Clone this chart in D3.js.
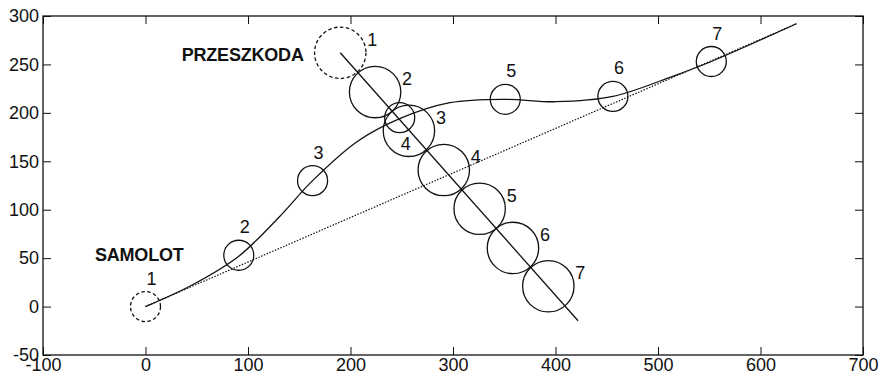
<!DOCTYPE html>
<html><head><meta charset="utf-8">
<script src="https://cdn.jsdelivr.net/npm/d3@7"></script>
<style>body{margin:0;background:#fff}</style>
</head><body>
<svg id="c" width="879" height="375"></svg>
<script>
// ---- data ----
const xTicks = [-100, 0, 100, 200, 300, 400, 500, 600, 700];
const yTicks = [-50, 0, 50, 100, 150, 200, 250, 300];
const planeX = [0, 91, 163, 248, 351, 456, 552];
const planeY = [0, 53, 130, 195, 214, 217, 253];
const planeLabels = ["1", "2", "3", "4", "5", "6", "7"];
const obstX = [190, 224, 257, 291, 326, 358.5, 393];
const obstY = [262, 221.5, 181.5, 141, 101, 60.5, 21];
const obstLabels = ["1", "2", "3", "4", "5", "6", "7"];
const pathX = [0, 45, 91, 130, 163, 206, 248, 297, 351, 400, 456, 515, 552, 635];
const pathY = [0, 22, 52, 92, 130, 170, 194, 210.5, 214, 211.5, 217, 238, 253, 292];
const directX = [0, 635];
const directY = [0, 292];
const obstLineX = [190, 422];
const obstLineY = [262, -14.6];
const nameTexts = ["SAMOLOT", "PRZESZKODA"];
const nameX = [-49.3, 35.3];
const nameY = [46.6, 253.7];

// ---- layout ----
const W = 879, H = 375;
const L = 43, R = 863, T = 16, B = 355;
const svg = d3.select("#c");
svg.append("rect").attr("width", W).attr("height", H).attr("fill", "#fff");
const x = d3.scaleLinear().domain([-100, 700]).range([L, R]);
const y = d3.scaleLinear().domain([-50, 300]).range([B, T]);
const FONT = "'Liberation Sans', Arial, Helvetica, sans-serif";
const INK = "#111";
const fmt = d => String(d);

function styleAxis(g, showText) {
  g.select(".domain").remove();
  g.selectAll(".tick line").attr("stroke", INK).attr("stroke-width", 1);
  g.selectAll(".tick text").attr("fill", INK).style("font-family", FONT).style("font-size", "18px");
  if (!showText) g.selectAll(".tick text").remove();
}
svg.append("g").attr("transform", `translate(0,${B})`)
  .call(d3.axisBottom(x).tickValues(xTicks).tickFormat(fmt).tickSizeInner(-8).tickSizeOuter(0).tickPadding(3))
  .call(g => styleAxis(g, true));
svg.append("g").attr("transform", `translate(0,${T})`)
  .call(d3.axisTop(x).tickValues(xTicks).tickSizeInner(-8).tickSizeOuter(0))
  .call(g => styleAxis(g, false));
svg.append("g").attr("transform", `translate(${L},0)`)
  .call(d3.axisLeft(y).tickValues(yTicks).tickFormat(fmt).tickSizeInner(-8).tickSizeOuter(0).tickPadding(4))
  .call(g => styleAxis(g, true));
svg.append("g").attr("transform", `translate(${R},0)`)
  .call(d3.axisRight(y).tickValues(yTicks).tickSizeInner(-8).tickSizeOuter(0))
  .call(g => styleAxis(g, false));
svg.append("rect").attr("x", L).attr("y", T).attr("width", R - L).attr("height", B - T)
  .attr("fill", "none").attr("stroke", INK).attr("stroke-width", 1.3);

const plot = svg.append("g");
const line = d3.line().x(d => x(d[0])).y(d => y(d[1]));

// straight dotted reference
plot.append("path").datum(d3.zip(directX, directY)).attr("d", line)
  .attr("fill", "none").attr("stroke", INK).attr("stroke-width", 1.2).attr("stroke-dasharray", "1.5,1.5");
// aircraft path
plot.append("path").datum(d3.zip(pathX, pathY))
  .attr("d", d3.line().x(d => x(d[0])).y(d => y(d[1])).curve(d3.curveCatmullRom.alpha(0.5)))
  .attr("fill", "none").attr("stroke", INK).attr("stroke-width", 1.3);
// obstacle straight line
plot.append("path").datum(d3.zip(obstLineX, obstLineY)).attr("d", line)
  .attr("fill", "none").attr("stroke", INK).attr("stroke-width", 1.3);

// aircraft circles
plot.selectAll(".pc").data(d3.range(planeX.length)).join("circle")
  .attr("cx", i => x(planeX[i])).attr("cy", i => y(planeY[i])).attr("r", 15)
  .attr("fill", "none").attr("stroke", INK).attr("stroke-width", 1.3)
  .attr("stroke-dasharray", i => i === 0 ? "3.5,2.5" : null);
plot.selectAll(".pl").data(d3.range(planeX.length)).join("text")
  .attr("x", i => x(planeX[i]) + 6).attr("y", i => y(planeY[i]) + (i === 3 ? 26 : -28))
  .attr("text-anchor", "middle").attr("dominant-baseline", "central")
  .style("font-family", FONT).style("font-size", "18px").attr("fill", INK)
  .text(i => planeLabels[i]);

// obstacle circles
plot.selectAll(".oc").data(d3.range(obstX.length)).join("circle")
  .attr("cx", i => x(obstX[i])).attr("cy", i => y(obstY[i])).attr("r", 25.7)
  .attr("fill", "none").attr("stroke", INK).attr("stroke-width", 1.3)
  .attr("stroke-dasharray", i => i === 0 ? "3.5,2.5" : null);
plot.selectAll(".ol").data(d3.range(obstX.length)).join("text")
  .attr("x", i => x(obstX[i]) + 32).attr("y", i => y(obstY[i]) - 13)
  .attr("text-anchor", "middle").attr("dominant-baseline", "central")
  .style("font-family", FONT).style("font-size", "18px").attr("fill", INK)
  .text(i => obstLabels[i]);

// names
plot.selectAll(".nm").data(d3.range(nameTexts.length)).join("text")
  .attr("x", i => x(nameX[i])).attr("y", i => y(nameY[i]))
  .style("font-family", FONT).style("font-size", "18px").style("font-weight", "bold")
  .attr("fill", INK).attr("letter-spacing", "-0.2")
  .text(i => nameTexts[i]);
</script>
</body></html>
